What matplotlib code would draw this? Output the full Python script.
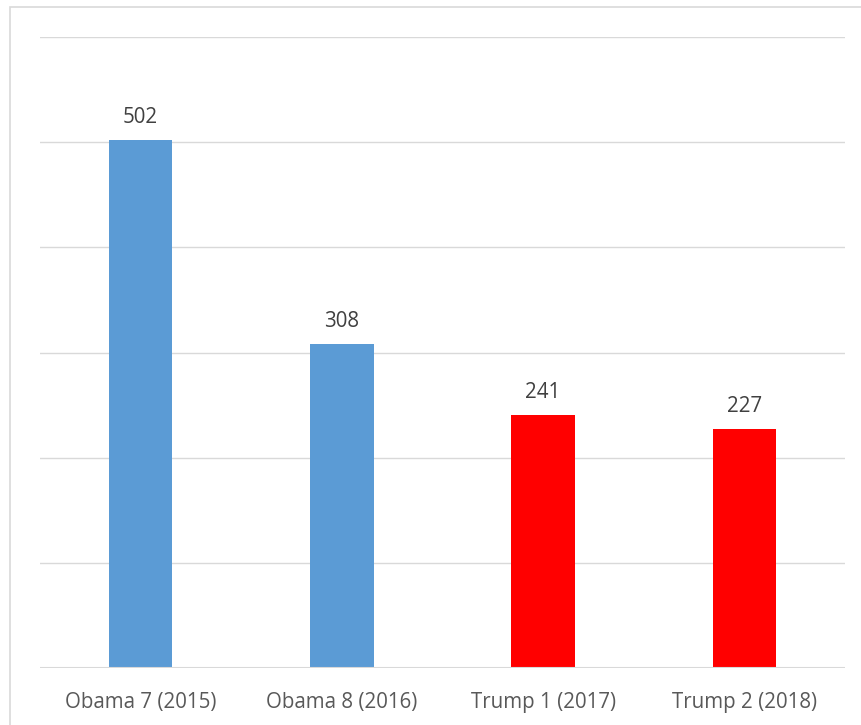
import matplotlib
matplotlib.use("Agg")
import matplotlib.pyplot as plt
from matplotlib.patches import Rectangle

categories = ["Obama 7 (2015)", "Obama 8 (2016)", "Trump 1 (2017)", "Trump 2 (2018)"]
values = [502, 308, 241, 227]
colors = ["#5B9BD5", "#5B9BD5", "#FF0000", "#FF0000"]

W, H = 862, 725
fig = plt.figure(figsize=(W / 100, H / 100), dpi=100)
plt.rcParams['font.family'] = ['Open Sans', 'DejaVu Sans']

# outer chart-area border
fig.patches.append(Rectangle((10 / W, -0.1), 1.0, (H - 7) / H + 0.1, transform=fig.transFigure,
                             fill=False, edgecolor="#D9D9D9", linewidth=1.2))

x0, x1 = 40, 845
y_top, y_base = 37, 668
ax = fig.add_axes([x0 / W, (H - y_base) / H, (x1 - x0) / W, (y_base - y_top) / H])
ax.set_xlim(-0.5, 3.5)
ax.set_ylim(0, 600)

for v in range(100, 700, 100):
    ax.axhline(v, color="#D9D9D9", linewidth=1.0, zorder=0)
ax.axhline(0, color="#D9D9D9", linewidth=1.5, zorder=3)

xs = range(len(categories))
bars = ax.bar(xs, values, width=0.315, color=colors, zorder=2)
for x, v in zip(xs, values):
    ax.annotate(str(v), (x, v), xytext=(0, 8.5), textcoords="offset points",
                ha="center", va="bottom", fontsize=14.8, color="#404040")

ax.set_xticks(list(xs))
ax.set_xticklabels(categories, fontsize=14.8, color="#595959")
ax.tick_params(axis="x", length=0, pad=17)
ax.set_yticks([])
for s in ax.spines.values():
    s.set_visible(False)

fig.savefig("out.png", dpi=100)
